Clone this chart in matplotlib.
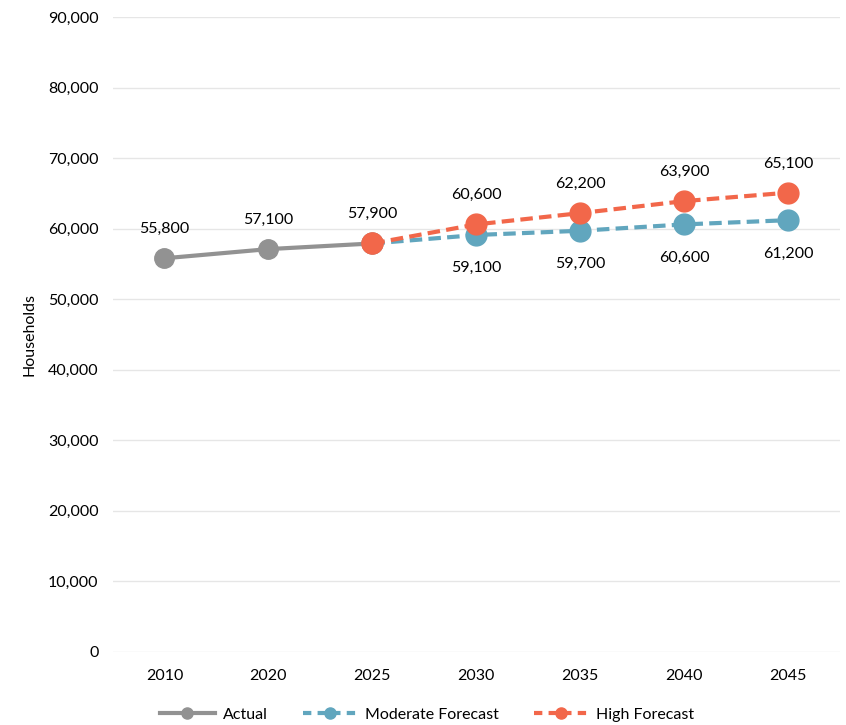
import matplotlib
matplotlib.use("Agg")
import matplotlib.pyplot as plt
from matplotlib.lines import Line2D

years = ["2010", "2020", "2025", "2030", "2035", "2040", "2045"]
actual = [55800, 57100, 57900]
moderate = [57900, 59100, 59700, 60600, 61200]
high = [57900, 60600, 62200, 63900, 65100]
yticks = [0, 10000, 20000, 30000, 40000, 50000, 60000, 70000, 80000, 90000]

plt.rcParams['font.family'] = ['Lato', 'DejaVu Sans']

GRAY = "#929292"
BLUE = "#61A6BE"
ORANGE = "#F2674A"
FS = 11.5

fig = plt.figure(figsize=(8.46, 7.25), dpi=100)
ax = fig.add_axes([0.133, 0.1007, 0.860, 0.8759])

xa = list(range(0, 3))
xf = list(range(2, 7))

ax.plot(xf, moderate, color=BLUE, lw=3, ls=(0, (3, 1.5)), marker='o', ms=15, zorder=3)
ax.plot(xf, high, color=ORANGE, lw=3, ls=(0, (3, 1.5)), marker='o', ms=15, zorder=4)
ax.plot(xa[:2], actual[:2], color=GRAY, lw=3, marker='o', ms=14, zorder=2)
ax.plot(xa[1:], actual[1:], color=GRAY, lw=3, zorder=2)
ax.plot([xf[0]], [high[0]], color=ORANGE, marker='o', ms=15, ls='none', zorder=5)

for x, v in zip(xa, actual):
    ax.annotate(f"{v:,}", (x, v), xytext=(0, 21), textcoords='offset points',
                ha='center', va='center', fontsize=FS, color='#000000')
for x, v in zip(xf[1:], high[1:]):
    ax.annotate(f"{v:,}", (x, v), xytext=(0, 21), textcoords='offset points',
                ha='center', va='center', fontsize=FS, color='#000000')
for x, v in zip(xf[1:], moderate[1:]):
    ax.annotate(f"{v:,}", (x, v), xytext=(0, -24), textcoords='offset points',
                ha='center', va='center', fontsize=FS, color='#000000')

ax.set_xlim(-0.5, 6.5)
ax.set_ylim(0, 90000)
ax.set_xticks(range(len(years)))
ax.set_xticklabels(years)
ax.set_yticks(yticks)
ax.set_yticklabels([f"{t:,}" for t in yticks])
ax.tick_params(axis='both', length=0, labelsize=FS, colors='#000000')
ax.tick_params(axis='x', pad=12)
ax.tick_params(axis='y', pad=10)
ax.grid(axis='y', color='#E6E6E6', lw=1)
ax.set_axisbelow(True)
for s in ax.spines.values():
    s.set_visible(False)
ax.set_ylabel("Households", fontsize=FS, labelpad=8)

handles = [
    Line2D([], [], color=GRAY, lw=3, marker='o', ms=8),
    Line2D([], [], color=BLUE, lw=3, ls=(0, (2, 1.5)), marker='o', ms=8),
    Line2D([], [], color=ORANGE, lw=3, ls=(0, (2, 1.5)), marker='o', ms=8),
]
fig.legend(handles, ["Actual", "Moderate Forecast", "High Forecast"],
           loc='center', bbox_to_anchor=(0.505, 0.014), ncol=3, frameon=False,
           fontsize=FS, handlelength=3.4, columnspacing=2.2, handletextpad=0.5)

fig.savefig("out.png", dpi=100)
